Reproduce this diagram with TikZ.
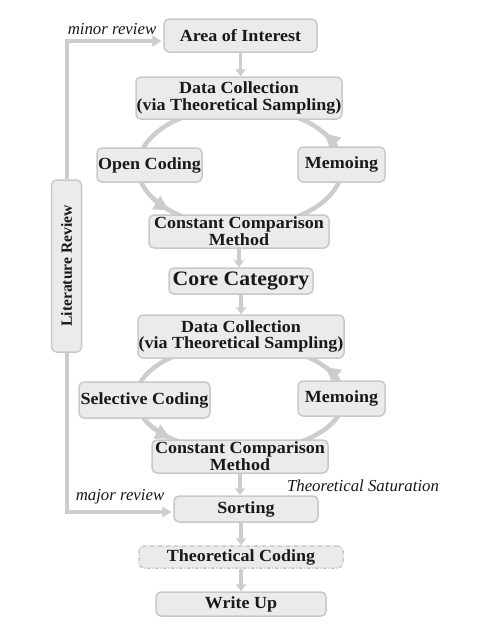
\documentclass[tikz,border=0pt]{standalone}
\usepackage{fontspec}
\setmainfont{Liberation Serif}
\newfontfamily\boxfont{Liberation Serif}[FakeStretch=1.06]
\usetikzlibrary{arrows.meta,calc}
\definecolor{boxfill}{HTML}{EBEBEB}
\definecolor{boxline}{HTML}{C9C9C9}
\definecolor{flow}{HTML}{CDCDCD}
\tikzset{
  stage/.style={draw=boxline, fill=boxfill, line width=1.5pt, rounded corners=5pt,
    inner sep=0pt, align=center, text=black!90,
    font=\boxfont\fontsize{17}{16.8}\selectfont\bfseries},
  flowline/.style={draw=flow, line width=3.5pt},
  smallarr/.style={flowline, -{Triangle[length=7pt,width=10pt]}},
  sidearr/.style={draw=flow, line width=4pt, -{Triangle[length=9pt,width=11pt]}},
  cyc/.style={draw=flow, line width=4.5pt},
  cycarr/.style={cyc, -{Triangle[length=15pt,width=15pt]}},
  lab/.style={font=\fontsize{16.8}{18}\selectfont\itshape, inner sep=0pt, text=black!90}
}
\begin{document}
\begin{tikzpicture}[x=1pt,y=-1pt]
\useasboundingbox[fill=white] (0,0) rectangle (477,629);

% cycles
\draw[cyc] (240,167) ellipse [x radius=102pt, y radius=60pt];
\draw[cycarr] plot[domain=150:134, samples=12] ({240+102*cos(\x)},{167+60*sin(\x)});
\draw[cycarr] plot[domain=340:326, samples=12] ({240+102*cos(\x)},{167+60*sin(\x)});

\draw[cyc] (240,398) ellipse [x radius=104pt, y radius=54pt];
\draw[cycarr] plot[domain=148:132, samples=12] ({240+104*cos(\x)},{398+54*sin(\x)});
\draw[cycarr] plot[domain=340:325, samples=12] ({240+104*cos(\x)},{398+54*sin(\x)});

% nodes
\node[stage, minimum width=153pt, minimum height=33pt] (aoi) at (240.5,35.5) {Area of Interest};
\node[stage, minimum width=206pt, minimum height=42pt] (dc1) at (239,98) {Data Collection\\(via Theoretical Sampling)};
\node[stage, minimum width=105pt, minimum height=34pt] (oc) at (149.5,165) {Open Coding};
\node[stage, minimum width=87pt, minimum height=35pt] (mem1) at (341.5,164.5) {Memoing};
\node[stage, minimum width=180pt, minimum height=33pt] (cc1) at (239,231.5) {Constant Comparison\\Method};
\node[stage, minimum width=144pt, minimum height=26pt, font=\boxfont\fontsize{20.5}{22}\selectfont\bfseries] (core) at (241,281) {Core Category};
\node[stage, minimum width=206pt, minimum height=43pt] (dc2) at (241,336.5) {Data Collection\\(via Theoretical Sampling)};
\node[stage, minimum width=131pt, minimum height=36pt] (sc) at (144.5,400) {Selective Coding};
\node[stage, minimum width=87pt, minimum height=35pt] (mem2) at (341.5,398.5) {Memoing};
\node[stage, minimum width=176pt, minimum height=33pt] (cc2) at (240,456.5) {Constant Comparison\\Method};
\node[stage, minimum width=144pt, minimum height=26pt] (sort) at (246,509) {Sorting};
\node[stage, minimum width=204pt, minimum height=22pt, dash pattern=on 4pt off 1.5pt on 1pt off 1.5pt] (tc) at (241,557) {Theoretical Coding};
\node[stage, minimum width=170pt, minimum height=24pt] (wu) at (241,604) {Write Up};
\node[stage, minimum width=172pt, minimum height=30pt, rotate=90,
      font=\fontsize{15.6}{16}\selectfont\bfseries] (lit) at (66.5,266) {Literature Review};

% labels
\node[lab] (minor) at (112,29) {minor review};
\node[lab] (major) at (120,497) {major review};
\node[lab] (sat) at (363,486) {Theoretical Saturation};

% straight connectors
\draw[smallarr] (aoi.south) -- (aoi.south |- dc1.north);
\draw[smallarr] (cc1.south) -- (cc1.south |- core.north);
\draw[smallarr] (core.south) -- (core.south |- dc2.north);
\draw[smallarr] (cc2.south) -- (cc2.south |- sort.north);
\draw[smallarr] (tc.north |- sort.south) -- (tc.north);
\draw[smallarr] (tc.south) -- (tc.south |- wu.north);

% literature review feedback
\coordinate (tl) at (66.5,41);
\coordinate (bl) at (66.5,512);
\draw[sidearr, shorten >=2pt] (lit.east) -- (tl) -- (tl -| aoi.west);
\draw[sidearr, shorten >=2pt] (lit.west) -- (bl) -- (bl -| sort.west);
\end{tikzpicture}
\end{document}
